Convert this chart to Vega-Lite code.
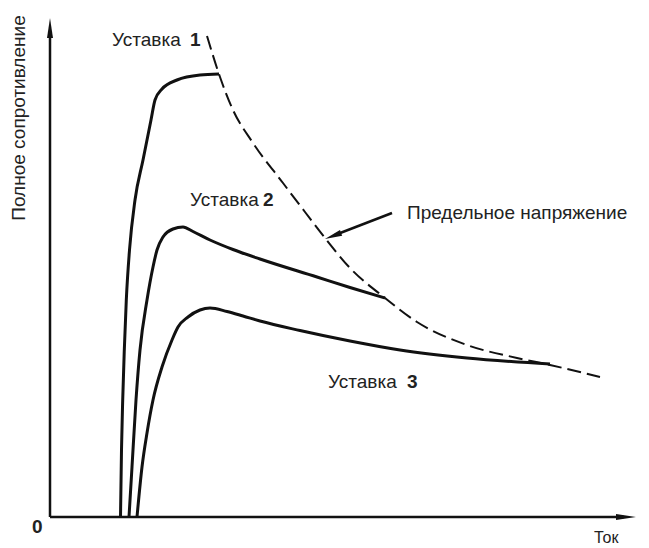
{
  "$schema": "https://vega.github.io/schema/vega-lite/v6.json",
  "width": 586,
  "height": 499,
  "autosize": "none",
  "padding": {"left": 50, "top": 18, "right": 13, "bottom": 31},
  "background": "white",
  "config": {"view": {"stroke": null}},
  "datasets": {
    "curves": [
      {"series": "Уставка 1", "current": 70.5, "impedance": 0},
      {"series": "Уставка 1", "current": 71.5, "impedance": 67},
      {"series": "Уставка 1", "current": 72.7, "impedance": 117},
      {"series": "Уставка 1", "current": 74.3, "impedance": 167},
      {"series": "Уставка 1", "current": 76.3, "impedance": 217},
      {"series": "Уставка 1", "current": 79.5, "impedance": 267},
      {"series": "Уставка 1", "current": 85, "impedance": 317},
      {"series": "Уставка 1", "current": 93, "impedance": 357},
      {"series": "Уставка 1", "current": 101, "impedance": 397},
      {"series": "Уставка 1", "current": 105, "impedance": 417},
      {"series": "Уставка 1", "current": 112, "impedance": 428},
      {"series": "Уставка 1", "current": 127, "impedance": 437},
      {"series": "Уставка 1", "current": 150, "impedance": 442},
      {"series": "Уставка 1", "current": 169, "impedance": 443},
      {"series": "Уставка 2", "current": 79, "impedance": 0},
      {"series": "Уставка 2", "current": 82, "impedance": 50},
      {"series": "Уставка 2", "current": 86, "impedance": 117},
      {"series": "Уставка 2", "current": 90, "impedance": 167},
      {"series": "Уставка 2", "current": 97, "impedance": 217},
      {"series": "Уставка 2", "current": 103, "impedance": 250},
      {"series": "Уставка 2", "current": 107, "impedance": 267},
      {"series": "Уставка 2", "current": 113, "impedance": 280},
      {"series": "Уставка 2", "current": 123, "impedance": 288},
      {"series": "Уставка 2", "current": 133, "impedance": 290},
      {"series": "Уставка 2", "current": 143, "impedance": 285.5},
      {"series": "Уставка 2", "current": 160, "impedance": 277},
      {"series": "Уставка 2", "current": 183, "impedance": 267.5},
      {"series": "Уставка 2", "current": 210, "impedance": 258},
      {"series": "Уставка 2", "current": 267, "impedance": 240},
      {"series": "Уставка 2", "current": 300, "impedance": 229.5},
      {"series": "Уставка 2", "current": 335, "impedance": 219},
      {"series": "Уставка 3", "current": 87, "impedance": 0},
      {"series": "Уставка 3", "current": 92, "impedance": 50},
      {"series": "Уставка 3", "current": 97, "impedance": 84},
      {"series": "Уставка 3", "current": 103, "impedance": 117},
      {"series": "Уставка 3", "current": 112, "impedance": 150},
      {"series": "Уставка 3", "current": 122, "impedance": 177},
      {"series": "Уставка 3", "current": 128, "impedance": 190},
      {"series": "Уставка 3", "current": 138, "impedance": 200},
      {"series": "Уставка 3", "current": 150, "impedance": 207},
      {"series": "Уставка 3", "current": 160, "impedance": 209},
      {"series": "Уставка 3", "current": 177, "impedance": 205.5},
      {"series": "Уставка 3", "current": 193, "impedance": 201},
      {"series": "Уставка 3", "current": 210, "impedance": 196},
      {"series": "Уставка 3", "current": 250, "impedance": 186.5},
      {"series": "Уставка 3", "current": 300, "impedance": 176},
      {"series": "Уставка 3", "current": 350, "impedance": 167},
      {"series": "Уставка 3", "current": 417, "impedance": 159},
      {"series": "Уставка 3", "current": 500, "impedance": 153}
    ],
    "limit": [
      {"series": "Предельное напряжение", "current": 157, "impedance": 481},
      {"series": "Предельное напряжение", "current": 170, "impedance": 440},
      {"series": "Предельное напряжение", "current": 183, "impedance": 407},
      {"series": "Предельное напряжение", "current": 203, "impedance": 374},
      {"series": "Предельное напряжение", "current": 233, "impedance": 334},
      {"series": "Предельное напряжение", "current": 255, "impedance": 305},
      {"series": "Предельное напряжение", "current": 275, "impedance": 279},
      {"series": "Предельное напряжение", "current": 300, "impedance": 249},
      {"series": "Предельное напряжение", "current": 335, "impedance": 219},
      {"series": "Предельное напряжение", "current": 367, "impedance": 195},
      {"series": "Предельное напряжение", "current": 417, "impedance": 172},
      {"series": "Предельное напряжение", "current": 467, "impedance": 159},
      {"series": "Предельное напряжение", "current": 500, "impedance": 152},
      {"series": "Предельное напряжение", "current": 550, "impedance": 140}
    ],
    "rules": [
      {"name": "y axis", "current": 0, "impedance": 0, "current2": 0, "impedance2": 486},
      {"name": "x axis", "current": 0, "impedance": 0, "current2": 574, "impedance2": 0},
      {"name": "pointer", "current": 342, "impedance": 304, "current2": 285, "impedance2": 282}
    ],
    "yhead": [{"current": 0, "impedance": 489}],
    "xhead": [{"current": 576, "impedance": 0}],
    "phead": [{"current": 283, "impedance": 281}],
    "words": [
      {"label": "Уставка", "current": 62, "impedance": 477},
      {"label": "Уставка", "current": 140, "impedance": 317},
      {"label": "Уставка", "current": 278, "impedance": 135},
      {"label": "Предельное напряжение", "current": 357, "impedance": 304}
    ],
    "axisnames": [
      {"label": "Ток", "current": 544, "impedance": -21}
    ],
    "digits": [
      {"label": "1", "current": 140, "impedance": 477},
      {"label": "2", "current": 213, "impedance": 317},
      {"label": "3", "current": 357, "impedance": 135},
      {"label": "0", "current": -18, "impedance": -10}
    ],
    "ytitle": [{"label": "Полное сопротивление", "current": -31, "impedance": 399}]
  },
  "encoding": {
    "x": {"field": "current", "type": "quantitative", "scale": {"domain": [0, 586], "nice": false, "zero": false}, "axis": null},
    "y": {"field": "impedance", "type": "quantitative", "scale": {"domain": [0, 499], "nice": false, "zero": false}, "axis": null}
  },
  "layer": [
    {
      "data": {"name": "curves"},
      "mark": {"type": "line", "color": "#111", "strokeWidth": 3, "interpolate": "monotone", "clip": false},
      "encoding": {"detail": {"field": "series", "type": "nominal"}}
    },
    {
      "data": {"name": "limit"},
      "mark": {"type": "line", "color": "#111", "strokeWidth": 2, "strokeDash": [14, 6], "interpolate": "monotone", "clip": false},
      "encoding": {"detail": {"field": "series", "type": "nominal"}}
    },
    {
      "data": {"name": "rules"},
      "mark": {"type": "rule", "color": "#111", "strokeWidth": 2.5, "clip": false},
      "encoding": {
        "x2": {"field": "current2"},
        "y2": {"field": "impedance2"},
        "detail": {"field": "name", "type": "nominal"}
      }
    },
    {
      "data": {"name": "yhead"},
      "mark": {"type": "point", "shape": "M0,-1L0.3,1L-0.3,1Z", "size": 400, "filled": true, "color": "#111", "opacity": 1, "clip": false},
      "encoding": {}
    },
    {
      "data": {"name": "xhead"},
      "mark": {"type": "point", "shape": "M1,0L-1,0.3L-1,-0.3Z", "size": 400, "filled": true, "color": "#111", "opacity": 1, "clip": false},
      "encoding": {}
    },
    {
      "data": {"name": "phead"},
      "mark": {"type": "point", "shape": "M0,-1L0.35,1L-0.35,1Z", "size": 300, "angle": 249, "filled": true, "color": "#111", "opacity": 1, "clip": false},
      "encoding": {}
    },
    {
      "data": {"name": "words"},
      "mark": {"type": "text", "align": "left", "baseline": "middle", "font": "Liberation Sans", "fontSize": 19, "color": "#222", "clip": false},
      "encoding": {"text": {"field": "label"}}
    },
    {
      "data": {"name": "axisnames"},
      "mark": {"type": "text", "align": "left", "baseline": "middle", "font": "Liberation Sans", "fontSize": 16, "color": "#222", "clip": false},
      "encoding": {"text": {"field": "label"}}
    },
    {
      "data": {"name": "digits"},
      "mark": {"type": "text", "align": "left", "baseline": "middle", "font": "Liberation Sans", "fontSize": 19, "fontWeight": "bold", "color": "#222", "clip": false},
      "encoding": {"text": {"field": "label"}}
    },
    {
      "data": {"name": "ytitle"},
      "mark": {"type": "text", "align": "center", "baseline": "middle", "angle": 270, "font": "Liberation Sans", "fontSize": 19, "color": "#222", "clip": false},
      "encoding": {"text": {"field": "label"}}
    }
  ]
}
